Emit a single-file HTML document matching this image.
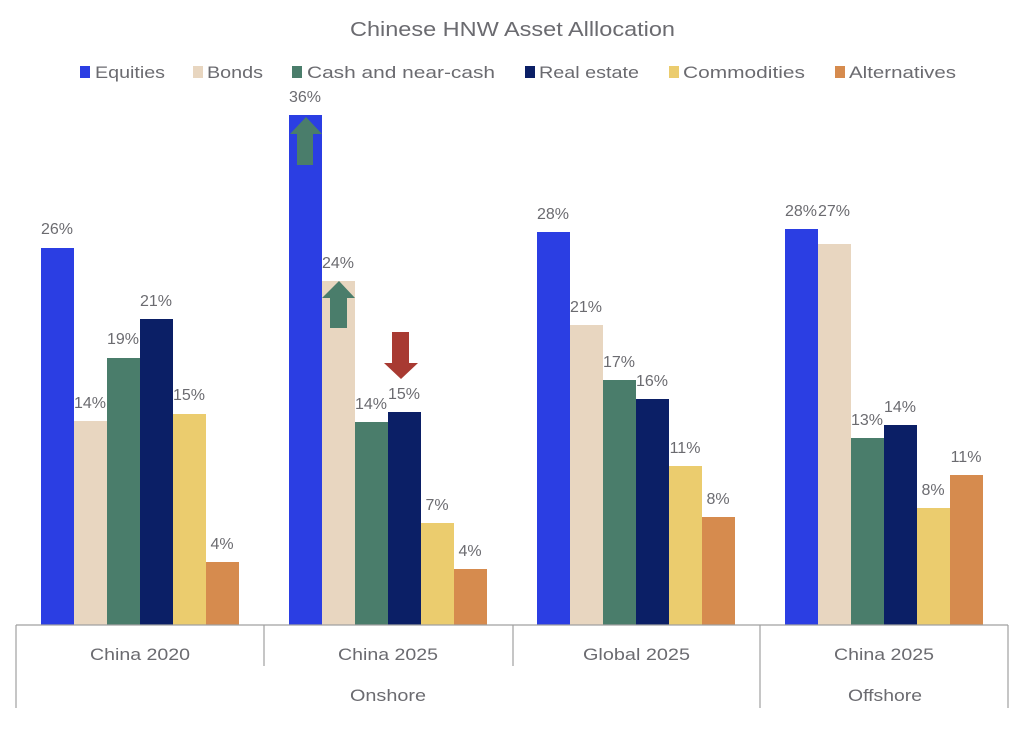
<!DOCTYPE html>
<html><head><meta charset="utf-8"><style>
body{margin:0;background:#fff;}
svg text{font-family:"Liberation Sans",sans-serif;fill:#6b6b70;}
</style></head><body>
<svg width="1024" height="744" xmlns="http://www.w3.org/2000/svg">
<text x="350" y="36" font-size="20" textLength="325" lengthAdjust="spacingAndGlyphs">Chinese HNW Asset Alllocation</text>
<g font-size="17">
<rect x="80" y="66" width="10" height="12" fill="#2b3ee3"/><text x="95" y="78" textLength="70" lengthAdjust="spacingAndGlyphs">Equities</text>
<rect x="193" y="66" width="10" height="12" fill="#e8d6c0"/><text x="207" y="78" textLength="56" lengthAdjust="spacingAndGlyphs">Bonds</text>
<rect x="292" y="66" width="10" height="12" fill="#4a7d6b"/><text x="307" y="78" textLength="188" lengthAdjust="spacingAndGlyphs">Cash and near-cash</text>
<rect x="525" y="66" width="10" height="12" fill="#0b1f66"/><text x="539" y="78" textLength="100" lengthAdjust="spacingAndGlyphs">Real estate</text>
<rect x="669" y="66" width="10" height="12" fill="#ebcc6e"/><text x="683" y="78" textLength="122" lengthAdjust="spacingAndGlyphs">Commodities</text>
<rect x="835" y="66" width="10" height="12" fill="#d68b4e"/><text x="849" y="78" textLength="107" lengthAdjust="spacingAndGlyphs">Alternatives</text>
</g>
<g id="bars" font-size="16" text-anchor="middle">
<rect x="41" y="248" width="33" height="377" fill="#2b3ee3"/><text x="57" y="234">26%</text>
<rect x="74" y="421" width="33" height="204" fill="#e8d6c0"/><text x="90" y="408">14%</text>
<rect x="107" y="358" width="33" height="267" fill="#4a7d6b"/><text x="123" y="344">19%</text>
<rect x="140" y="319" width="33" height="306" fill="#0b1f66"/><text x="156" y="306">21%</text>
<rect x="173" y="414" width="33" height="211" fill="#ebcc6e"/><text x="189" y="400">15%</text>
<rect x="206" y="562" width="33" height="63" fill="#d68b4e"/><text x="222" y="549">4%</text>
<rect x="289" y="115" width="33" height="510" fill="#2b3ee3"/><text x="305" y="102">36%</text>
<rect x="322" y="281" width="33" height="344" fill="#e8d6c0"/><text x="338" y="268">24%</text>
<rect x="355" y="422" width="33" height="203" fill="#4a7d6b"/><text x="371" y="409">14%</text>
<rect x="388" y="412" width="33" height="213" fill="#0b1f66"/><text x="404" y="399">15%</text>
<rect x="421" y="523" width="33" height="102" fill="#ebcc6e"/><text x="437" y="510">7%</text>
<rect x="454" y="569" width="33" height="56" fill="#d68b4e"/><text x="470" y="556">4%</text>
<rect x="537" y="232" width="33" height="393" fill="#2b3ee3"/><text x="553" y="219">28%</text>
<rect x="570" y="325" width="33" height="300" fill="#e8d6c0"/><text x="586" y="312">21%</text>
<rect x="603" y="380" width="33" height="245" fill="#4a7d6b"/><text x="619" y="367">17%</text>
<rect x="636" y="399" width="33" height="226" fill="#0b1f66"/><text x="652" y="386">16%</text>
<rect x="669" y="466" width="33" height="159" fill="#ebcc6e"/><text x="685" y="453">11%</text>
<rect x="702" y="517" width="33" height="108" fill="#d68b4e"/><text x="718" y="504">8%</text>
<rect x="785" y="229" width="33" height="396" fill="#2b3ee3"/><text x="801" y="216">28%</text>
<rect x="818" y="244" width="33" height="381" fill="#e8d6c0"/><text x="834" y="216">27%</text>
<rect x="851" y="438" width="33" height="187" fill="#4a7d6b"/><text x="867" y="425">13%</text>
<rect x="884" y="425" width="33" height="200" fill="#0b1f66"/><text x="900" y="412">14%</text>
<rect x="917" y="508" width="33" height="117" fill="#ebcc6e"/><text x="933" y="495">8%</text>
<rect x="950" y="475" width="33" height="150" fill="#d68b4e"/><text x="966" y="462">11%</text>
</g>
<polygon points="306,117 322,134 313,134 313,165 297,165 297,134 290,134" fill="#4a7d6b"/>
<polygon points="339,281 355,298 347,298 347,328 330,328 330,298 322,298" fill="#4a7d6b"/>
<polygon points="392,332 409,332 409,363 418,363 401,379 384,363 392,363" fill="#a83a32"/>
<g stroke="#a0a0a0" stroke-width="1.2">
<line x1="16" y1="625" x2="1008" y2="625"/>
<line x1="16" y1="625" x2="16" y2="708"/>
<line x1="1008" y1="625" x2="1008" y2="708"/>
<line x1="760" y1="625" x2="760" y2="708"/>
<line x1="264" y1="625" x2="264" y2="666"/>
<line x1="513" y1="625" x2="513" y2="666"/>
</g>
<g font-size="17">
<text x="90" y="660" textLength="100" lengthAdjust="spacingAndGlyphs">China 2020</text>
<text x="338" y="660" textLength="100" lengthAdjust="spacingAndGlyphs">China 2025</text>
<text x="583" y="660" textLength="107" lengthAdjust="spacingAndGlyphs">Global 2025</text>
<text x="834" y="660" textLength="100" lengthAdjust="spacingAndGlyphs">China 2025</text>
<text x="350" y="701" textLength="76" lengthAdjust="spacingAndGlyphs">Onshore</text>
<text x="848" y="701" textLength="74" lengthAdjust="spacingAndGlyphs">Offshore</text>
</g>
</svg>
</body></html>
